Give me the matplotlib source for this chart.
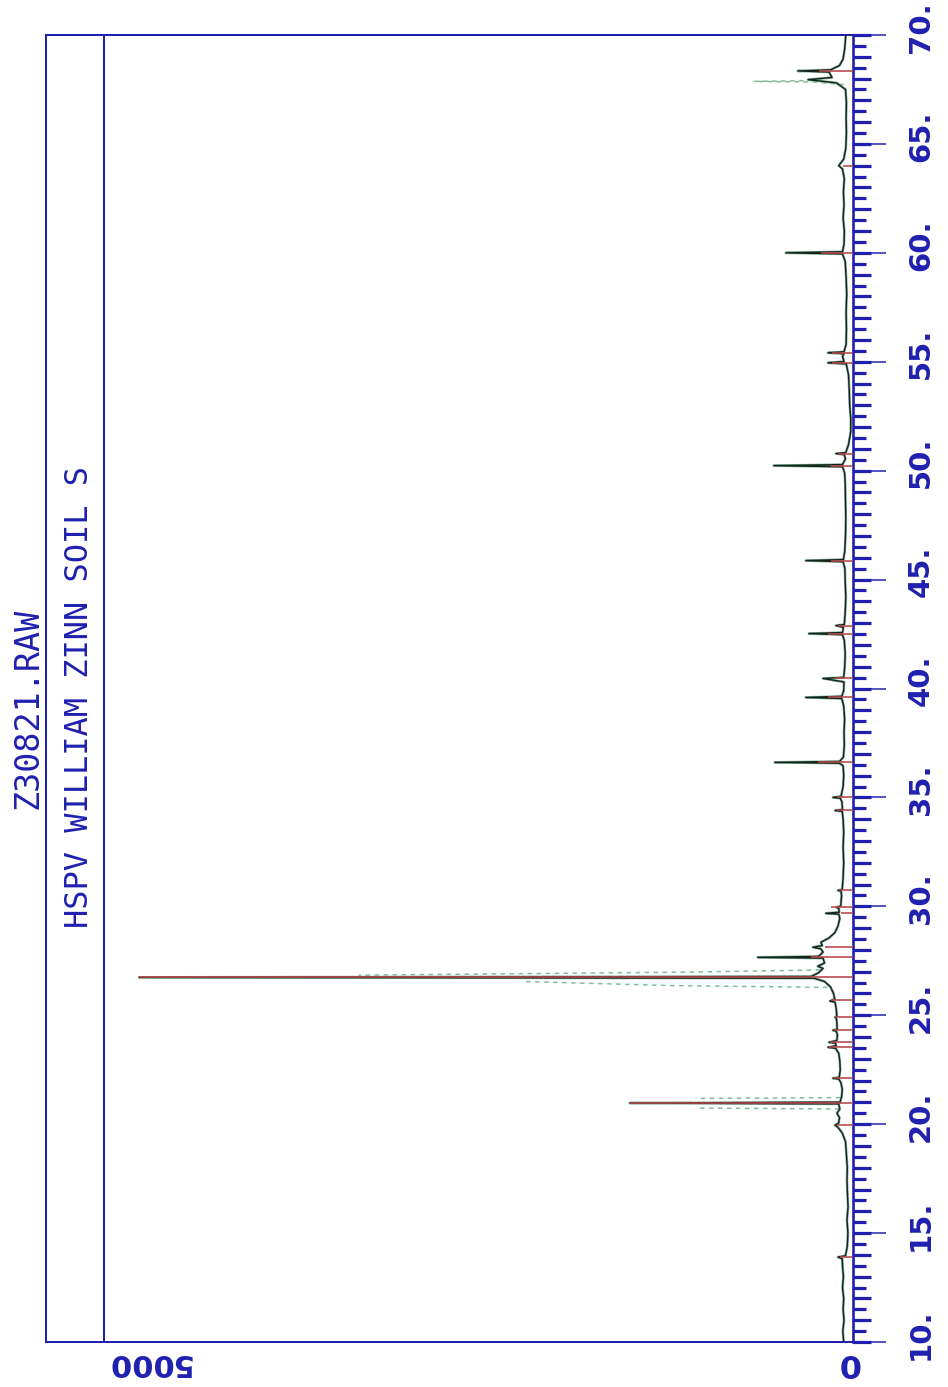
import matplotlib
matplotlib.use("Agg")
import matplotlib.pyplot as plt
from matplotlib.ticker import FixedLocator, NullFormatter
from matplotlib.transforms import blended_transform_factory, ScaledTranslation

# ---------------------------------------------------------------- data
# Diffractogram trace: 2-theta (deg) and counts
trace_2theta = [
    10.00, 10.50, 11.00, 11.50, 12.00, 12.50, 13.00, 13.50, 13.82, 13.90, 13.96,
    14.40, 15.00, 15.60, 16.20, 16.80, 17.40, 18.00, 18.60, 19.20, 19.60, 19.85,
    19.95, 20.05, 20.30, 20.50, 20.70, 20.93, 20.97, 21.01, 21.30, 21.60, 21.90,
    22.07, 22.11, 22.15, 22.50, 22.90, 23.25, 23.48, 23.53, 23.60, 23.72, 23.76,
    23.84, 24.10, 24.27, 24.31, 24.36, 24.70, 24.87, 24.91, 24.96, 25.30, 25.60,
    25.65, 25.74, 26.00, 26.30, 26.55, 26.70, 26.74, 26.78, 26.95, 27.15, 27.25,
    27.40, 27.62, 27.66, 27.70, 27.90, 28.05, 28.12, 28.20, 28.35, 28.55, 28.80,
    29.10, 29.45, 29.64, 29.68, 29.73, 29.90, 29.95, 30.02, 30.50, 30.69, 30.73,
    30.78, 31.30, 32.00, 32.70, 33.40, 34.00, 34.36, 34.40, 34.45, 34.80, 34.96,
    35.00, 35.05, 35.50, 36.00, 36.45, 36.57, 36.61, 36.65, 36.85, 37.40, 38.00,
    38.60, 39.20, 39.54, 39.59, 39.64, 39.90, 40.30, 40.46, 40.51, 41.00, 41.60,
    42.20, 42.47, 42.52, 42.57, 42.80, 42.89, 42.94, 43.50, 44.20, 44.90, 45.50,
    45.82, 45.87, 45.92, 46.30, 47.00, 47.80, 48.60, 49.40, 49.90, 50.18, 50.23,
    50.28, 50.55, 50.74, 50.78, 50.83, 51.20, 51.80, 52.40, 53.00, 53.70, 54.40,
    54.90, 54.95, 55.01, 55.25, 55.37, 55.41, 55.46, 55.80, 56.50, 57.30, 58.10,
    58.90, 59.60, 59.95, 60.00, 60.05, 60.40, 61.00, 61.60, 62.20, 62.80, 63.40,
    63.85, 64.00, 64.10, 64.30, 64.80, 65.50, 66.20, 66.90, 67.50, 67.80, 67.95,
    68.05, 68.30, 68.35, 68.40, 68.60, 68.90, 69.40, 70.00,
]
trace_counts = [
    62, 68, 60, 66, 62, 70, 64, 70, 72, 100, 50,
    38, 34, 40, 33, 37, 40, 38, 44, 50, 72, 100,
    120, 96, 90, 107, 88, 96, 1490, 86, 75, 72, 80,
    95, 134, 92, 85, 88, 95, 115, 167, 112, 118, 160,
    108, 104, 112, 134, 106, 108, 112, 120, 108, 112, 120,
    154, 122, 130, 150, 190, 260, 4766, 280, 230, 200, 235,
    190, 200, 636, 230, 200, 215, 268, 205, 214, 160, 120,
    100, 88, 95, 181, 92, 95, 110, 82, 76, 80, 100,
    72, 66, 62, 66, 62, 66, 72, 120, 70, 74, 85,
    134, 80, 66, 62, 66, 90, 522, 90, 64, 58, 60,
    56, 62, 75, 315, 75, 62, 60, 200, 62, 55, 52,
    58, 70, 295, 70, 64, 114, 58, 52, 48, 52, 54,
    66, 315, 64, 55, 50, 48, 50, 52, 56, 70, 529,
    70, 50, 60, 114, 48, 30, 15, 15, 22, 25, 30,
    45, 167, 60, 70, 60, 167, 60, 46, 44, 46, 42,
    46, 52, 70, 448, 70, 60, 58, 66, 60, 64, 58,
    70, 95, 85, 62, 48, 44, 46, 44, 50, 110, 300,
    140, 160, 368, 150, 90, 66, 55, 48,
]

# Raw-data flanks beside the strongest reflections
flank_low_21_2theta = [20.70, 20.74]
flank_low_21_counts = [90, 1050]
flank_high_21_2theta = [21.22, 21.18]
flank_high_21_counts = [85, 1050]
flank_low_27_2theta = [26.28, 26.36, 26.55]
flank_low_27_counts = [170, 1200, 2200]
flank_high_27_2theta = [27.08, 26.98, 26.84]
flank_high_27_counts = [220, 1100, 3300]
flank_68_2theta = [67.72, 67.84, 67.87, 67.92]
flank_68_counts = [60, 250, 660, 200]

# Peak-search markers
stick_2theta = [13.90, 19.95, 20.97, 22.11, 23.53, 23.76, 24.31, 24.91, 25.69,
                26.74, 27.66, 28.12, 29.68, 29.95, 30.73, 34.40, 35.00, 36.61,
                39.59, 40.46, 42.52, 42.89, 45.87, 50.23, 50.78, 54.95, 55.41,
                60.00, 64.00, 68.35]
stick_counts = [90, 110, 1490, 130, 160, 155, 130, 118, 150,
                4766, 280, 190, 80, 150, 95, 110, 110, 235,
                167, 120, 167, 100, 147, 147, 100, 140, 140,
                214, 70, 227]

major_ticks = [10, 15, 20, 25, 30, 35, 40, 45, 50, 55, 60, 65, 70]
integer_ticks = list(range(10, 71))
half_ticks = [t + 0.5 for t in range(10, 70)]

file_name = "Z30821.RAW"
sample_name = "HSPV WILLIAM ZINN SOIL S"
intensity_labels = [0, 5000]

# ---------------------------------------------------------------- styling
W, H, DPI = 948, 1387, 100
BLUE = "#2020b0"
TRACE = "#13241b"
HALO = "#4e8a6c"
STICK = "#b5474b"
FLANK = "#7fbb9c"


def fx(px):
    return px / W


def fy(py):
    return 1 - py / H


def pt(px):
    return px * 72 / DPI


fig = plt.figure(figsize=(W / DPI, H / DPI), dpi=DPI)
fig.patch.set_facecolor("white")

# intensity runs right-to-left, 2-theta bottom-to-top
ax = fig.add_axes([fx(46), fy(1342), fx(853) - fx(46), (1342 - 35) / H])
ax.set_xlim(5387, 0)
ax.set_ylim(10, 70)
ax.set_facecolor("white")

ax.plot(trace_counts, trace_2theta, color=HALO, lw=pt(2.6), alpha=0.65,
        solid_joinstyle="round", zorder=2)
for fc, ft in [(flank_low_21_counts, flank_low_21_2theta),
               (flank_high_21_counts, flank_high_21_2theta),
               (flank_low_27_counts, flank_low_27_2theta),
               (flank_high_27_counts, flank_high_27_2theta),
               (flank_68_counts, flank_68_2theta)]:
    ax.plot(fc, ft, color=FLANK, lw=pt(1.5), ls=(0, (3, 3)), zorder=2.5)
ax.plot(trace_counts, trace_2theta, color=TRACE, lw=pt(1.4), zorder=3)
ax.hlines(stick_2theta, 0, stick_counts, color=STICK, lw=pt(1.6), zorder=4)

# full-scale line
ax.axvline(intensity_labels[1], color=BLUE, lw=pt(2))

for side, s in ax.spines.items():
    s.set_color(BLUE)
    s.set_linewidth(pt(2))
ax.spines["right"].set_linewidth(pt(2.6))

ax.set_xticks([])
ax.yaxis.tick_right()
ax.set_yticks(major_ticks)
ax.yaxis.set_minor_locator(FixedLocator(integer_ticks))
ax.yaxis.remove_overlapping_locs = False
ax.yaxis.set_major_formatter(NullFormatter())
ax.tick_params(axis="y", which="both", left=False, right=True,
               labelleft=False, labelright=False, direction="out", colors=BLUE)
ax.tick_params(axis="y", which="major", length=pt(33), width=pt(1.5))
ax.tick_params(axis="y", which="minor", length=pt(18), width=pt(3.2))

sec = ax.secondary_yaxis("right")
sec.set_yticks(half_ticks)
sec.yaxis.set_major_formatter(NullFormatter())
sec.tick_params(axis="y", direction="out", length=pt(13), width=pt(3.2),
                colors=BLUE, labelright=False)
sec.spines["right"].set_visible(False)

# 2-theta labels
lab_trans = blended_transform_factory(fig.transFigure, ax.transData) + \
    ScaledTranslation(0, 0.08, fig.dpi_scale_trans)
for t in major_ticks:
    ax.text(fx(921), t, f"{t}.", transform=lab_trans, rotation=90,
            ha="center", va="center", fontsize=21, fontweight="bold",
            color=BLUE, clip_on=False)

# intensity labels
int_trans = blended_transform_factory(ax.transData, fig.transFigure)
ax.text(intensity_labels[0], fy(1363), f"{intensity_labels[0]}",
        transform=int_trans + ScaledTranslation(-0.05, 0, fig.dpi_scale_trans),
        rotation=180, ha="center", va="center", fontsize=23, fontweight="bold",
        color=BLUE, clip_on=False)
ax.text(intensity_labels[1], fy(1363), f"{intensity_labels[1]}",
        transform=int_trans + ScaledTranslation(0.02, 0, fig.dpi_scale_trans),
        rotation=180, ha="left", va="center", fontsize=22, fontweight="bold",
        color=BLUE, clip_on=False)

# header
fig.text(fx(80), fy(697), sample_name, rotation=90, family="DejaVu Sans Mono",
         fontsize=23, color=BLUE, ha="center", va="center")
fig.text(fx(28), fy(708), file_name, rotation=90, family="DejaVu Sans Mono",
         fontsize=24, color=BLUE, ha="center", va="center")

fig.savefig("out.png", dpi=DPI, facecolor="white")
